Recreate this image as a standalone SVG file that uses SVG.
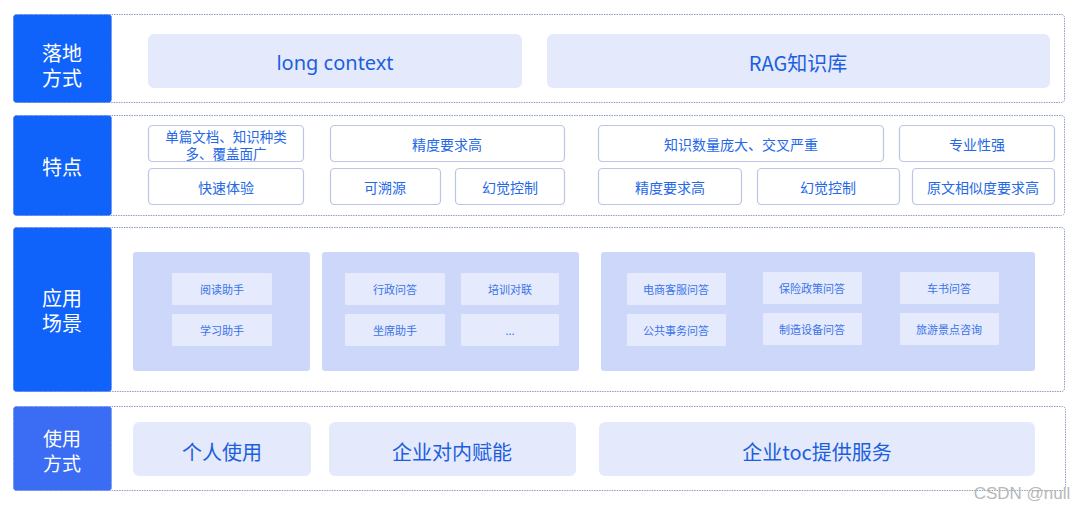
<svg xmlns="http://www.w3.org/2000/svg" width="1080" height="508" viewBox="0 0 1080 508">
<style>
text{font-family:"Noto Sans CJK SC","Noto Sans",sans-serif;text-anchor:middle;dominant-baseline:central}
text.ml{font-family:"Liberation Sans","Noto Sans CJK SC",sans-serif}
.outer{fill:#fff;stroke:#8e9cc8;stroke-width:1;stroke-dasharray:1.5 1}
.lab{fill:#0f62fa;stroke:#6e8fe8;stroke-width:1;stroke-dasharray:1.5 1}
.lab4{fill:#3a6cf4;stroke:#7a96ea;stroke-width:1;stroke-dasharray:1.5 1}
.lt{fill:#fff;font-size:20px}
.big{fill:#e5e9fc}
.bt{fill:#1a5fe0;font-size:20px}
.card{fill:#fff;stroke:#bcc5e6;stroke-width:1.2}
.ct{fill:#2468e6;font-size:14px}
.panel{fill:#cdd7fa}
.item{fill:#e5eafd}
.it{fill:#3a74e8;font-size:11px}
</style>
<g id="row1">
<rect class="outer" x="13.5" y="14.5" width="1051" height="88" rx="3"/>
<rect class="lab" x="13.5" y="14.5" width="98" height="88" rx="3"/>
<text class="lt ml"><tspan x="62" y="53.5">落地</tspan><tspan x="62" y="79">方式</tspan></text>
<g id="n-long"><rect class="big" x="148" y="34" width="374" height="54" rx="6"/><text class="bt" x="335" y="62" style="font-family:'Noto Sans','Noto Sans CJK SC',sans-serif">long context</text></g>
<g id="n-rag"><rect class="big" x="547" y="34" width="503" height="54" rx="6"/><text class="bt" x="798" y="62">RAG知识库</text></g>
</g>
<g id="row2">
<rect class="outer" x="13.5" y="115.5" width="1051" height="100" rx="3"/>
<rect class="lab" x="13.5" y="115.5" width="98" height="100" rx="3"/>
<text class="lt" x="62" y="166">特点</text>
<g id="c1"><rect class="card" x="148.5" y="125.5" width="155" height="36" rx="4"/><text class="ct ml" style="font-size:13.5px"><tspan x="226" y="137">单篇文档、知识种类</tspan><tspan x="226" y="154">多、覆盖面广</tspan></text></g>
<g id="c2"><rect class="card" x="330.5" y="125.5" width="234" height="36" rx="4"/><text class="ct" x="447" y="144">精度要求高</text></g>
<g id="c3"><rect class="card" x="598.5" y="125.5" width="285" height="36" rx="4"/><text class="ct" x="741" y="144">知识数量庞大、交叉严重</text></g>
<g id="c4"><rect class="card" x="899.5" y="125.5" width="155" height="36" rx="4"/><text class="ct" x="977" y="144">专业性强</text></g>
<g id="c5"><rect class="card" x="148.5" y="168.5" width="155" height="36" rx="4"/><text class="ct" x="226" y="187">快速体验</text></g>
<g id="c6"><rect class="card" x="330.5" y="168.5" width="110" height="36" rx="4"/><text class="ct" x="385" y="187">可溯源</text></g>
<g id="c7"><rect class="card" x="455.5" y="168.5" width="109" height="36" rx="4"/><text class="ct" x="510" y="187">幻觉控制</text></g>
<g id="c8"><rect class="card" x="598.5" y="168.5" width="143" height="36" rx="4"/><text class="ct" x="670" y="187">精度要求高</text></g>
<g id="c9"><rect class="card" x="757.5" y="168.5" width="142" height="36" rx="4"/><text class="ct" x="828" y="187">幻觉控制</text></g>
<g id="c10"><rect class="card" x="912.5" y="168.5" width="142" height="36" rx="4"/><text class="ct" x="983" y="187">原文相似度要求高</text></g>
</g>
<g id="row3">
<rect class="outer" x="13.5" y="227.5" width="1051" height="164" rx="3"/>
<rect class="lab" x="13.5" y="227.5" width="98" height="164" rx="3"/>
<text class="lt ml"><tspan x="62" y="298.5">应用</tspan><tspan x="62" y="324">场景</tspan></text>
<g id="p1"><rect class="panel" x="133" y="252" width="177" height="119" rx="3"/>
<g id="i1"><rect class="item" x="172" y="273" width="100" height="32" rx="1"/><text class="it" x="222" y="289">阅读助手</text></g>
<g id="i2"><rect class="item" x="172" y="314" width="100" height="32" rx="1"/><text class="it" x="222" y="330">学习助手</text></g>
</g>
<g id="p2"><rect class="panel" x="322" y="252" width="257" height="119" rx="3"/>
<g id="i3"><rect class="item" x="345" y="273" width="100" height="32" rx="1"/><text class="it" x="395" y="289">行政问答</text></g>
<g id="i4"><rect class="item" x="461" y="273" width="98" height="32" rx="1"/><text class="it" x="510" y="289">培训对联</text></g>
<g id="i5"><rect class="item" x="345" y="314" width="100" height="32" rx="1"/><text class="it" x="395" y="330">坐席助手</text></g>
<g id="i6"><rect class="item" x="461" y="314" width="98" height="32" rx="1"/><text class="it" x="510" y="330">...</text></g>
</g>
<g id="p3"><rect class="panel" x="601" y="252" width="434" height="119" rx="3"/>
<g id="i7"><rect class="item" x="627" y="273" width="99" height="32" rx="1"/><text class="it" x="676" y="289">电商客服问答</text></g>
<g id="i8"><rect class="item" x="763" y="272" width="99" height="32" rx="1"/><text class="it" x="812" y="288">保险政策问答</text></g>
<g id="i9"><rect class="item" x="900" y="272" width="99" height="32" rx="1"/><text class="it" x="949" y="288">车书问答</text></g>
<g id="i10"><rect class="item" x="627" y="314" width="99" height="32" rx="1"/><text class="it" x="676" y="330">公共事务问答</text></g>
<g id="i11"><rect class="item" x="763" y="313" width="99" height="32" rx="1"/><text class="it" x="812" y="329">制造设备问答</text></g>
<g id="i12"><rect class="item" x="900" y="313" width="99" height="32" rx="1"/><text class="it" x="949" y="329">旅游景点咨询</text></g>
</g>
</g>
<g id="row4">
<rect class="outer" x="13.5" y="406.5" width="1052" height="84" rx="3"/>
<rect class="lab4" x="13.5" y="406.5" width="98" height="84" rx="3"/>
<text class="lt ml" style="font-size:19px"><tspan x="62" y="438.5">使用</tspan><tspan x="62" y="464">方式</tspan></text>
<g id="u1"><rect class="big" x="133" y="422" width="178" height="54" rx="6"/><text class="bt" x="222" y="451">个人使用</text></g>
<g id="u2"><rect class="big" x="329" y="422" width="247" height="54" rx="6"/><text class="bt" x="452" y="451">企业对内赋能</text></g>
<g id="u3"><rect class="big" x="599" y="422" width="436" height="54" rx="6"/><text class="bt" x="817" y="451">企业toc提供服务</text></g>
</g>
<g id="connectors"/>
<text x="1022" y="493" style="fill:#b8b8b8;font-family:'Liberation Sans',sans-serif;font-size:17px">CSDN @null</text>
</svg>
